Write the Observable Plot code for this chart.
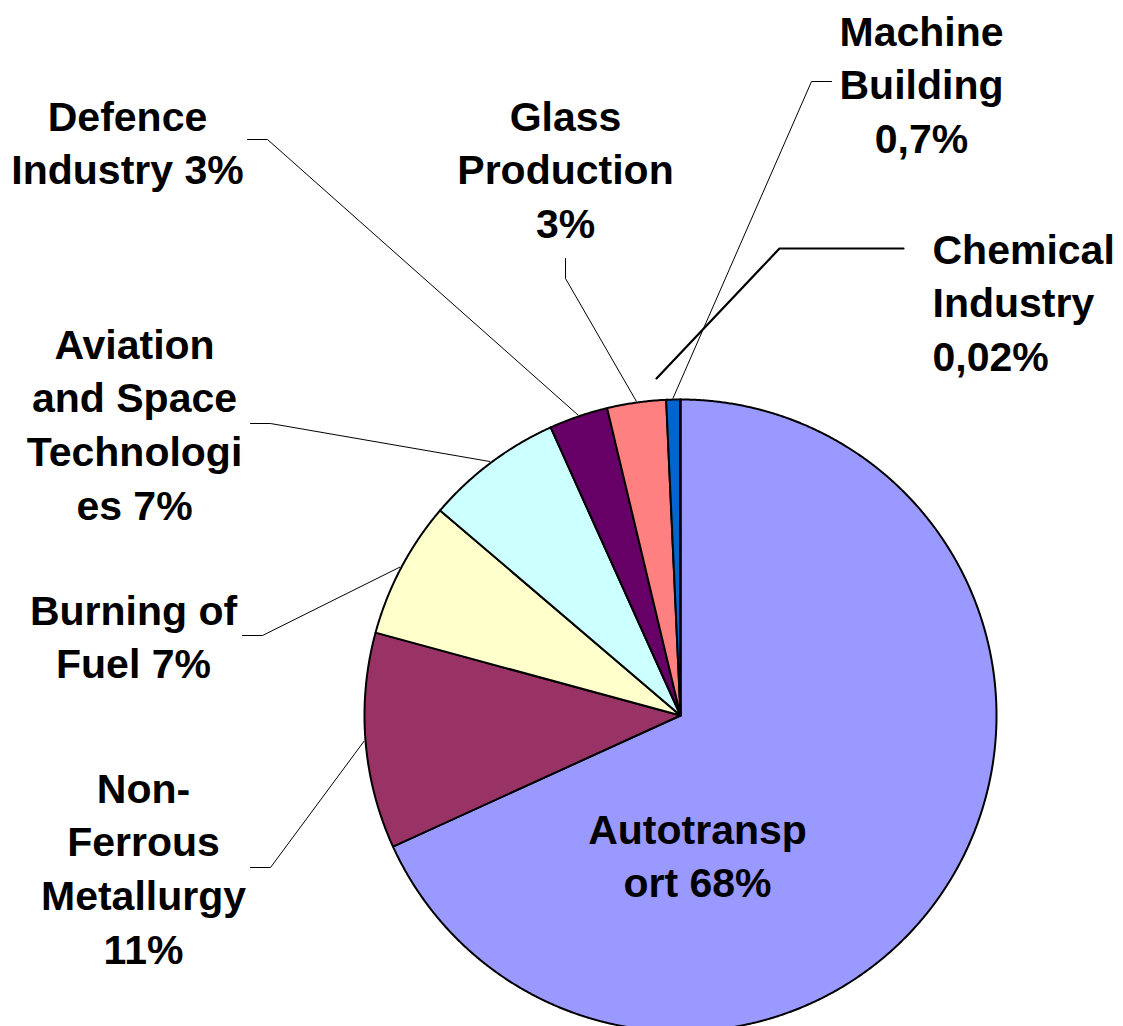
<!DOCTYPE html>
<html>
<head>
<meta charset="utf-8">
<script src="https://cdn.jsdelivr.net/npm/d3@7"></script>
<script src="https://cdn.jsdelivr.net/npm/@observablehq/plot@0.6"></script>
<style>body{margin:0;background:#fff}</style>
</head>
<body>
<div id="chart"></div>
<script>
// ---- data ----
const categories = ["Autotransport", "Non-Ferrous Metallurgy", "Burning of Fuel", "Aviation and Space Technologies", "Defence Industry", "Glass Production", "Machine Building", "Chemical Industry"];
const shares = [68, 11, 7, 7, 3, 3, 0.7, 0.02];
const sliceColors = ["#9999FF", "#993366", "#FFFFCC", "#CCFFFF", "#660066", "#FF8080", "#0066CC", "#CCCCFF"];
const labelLines = [
  ["Autotransp", "ort 68%"],
  ["Non-", "Ferrous", "Metallurgy", "11%"],
  ["Burning of", "Fuel 7%"],
  ["Aviation", "and Space", "Technologi", "es 7%"],
  ["Defence", "Industry 3%"],
  ["Glass", "Production", "3%"],
  ["Machine", "Building", "0,7%"],
  ["Chemical", "Industry", "0,02%"]
];

// ---- layout (pixels of the 1123x1026 frame) ----
const W = 1123, H = 1026, CX = 680, CY = 715, R = 316, LINE = 53.8;
// label anchor: x (center or start), baseline of first line, text anchor
const labelLayout = [
  {x: 697, y: 843, anchor: "middle"},
  {x: 143, y: 802, anchor: "middle"},
  {x: 133, y: 624, anchor: "middle"},
  {x: 134, y: 358, anchor: "middle"},
  {x: 127, y: 130, anchor: "middle"},
  {x: 565, y: 130, anchor: "middle"},
  {x: 921, y: 45, anchor: "middle"},
  {x: 932, y: 263, anchor: "start"}
];
// leader elbows: [elbow, end]; start is taken on the slice edge (except where given)
const leaderLayout = [
  null,
  {pts: [[270, 867], [250, 867]]},
  {pts: [[262, 635], [242, 635]]},
  {pts: [[270, 423], [250, 423]]},
  {pts: [[267, 139], [247, 139]]},
  {pts: [[565, 278], [565, 258]]},
  {pts: [[811, 81], [831, 81]]},
  {start: [656, 378], pts: [[779, 248], [903, 248]], heavy: true}
];

// unit coordinates: pie center (0,0), radius 1, y up
const ux = px => (px - CX) / R;
const uy = py => (CY - py) / R;

const arcs = d3.pie().sort(null).value(d => d.value).startAngle(0).endAngle(2 * Math.PI)(
  categories.map((name, i) => ({name, value: shares[i]}))
);

// slice polygons
const slicePts = [];
arcs.forEach(a => {
  const name = a.data.name;
  slicePts.push({name, x: 0, y: 0});
  const n = Math.max(2, Math.ceil((a.endAngle - a.startAngle) / (Math.PI / 720)));
  for (let k = 0; k <= n; k++) {
    const t = a.startAngle + (a.endAngle - a.startAngle) * k / n;
    slicePts.push({name, x: Math.sin(t), y: Math.cos(t)});
  }
});

// leader lines
const leaderThin = [], leaderHeavy = [];
arcs.forEach((a, i) => {
  const L = leaderLayout[i];
  if (!L) return;
  const name = a.data.name;
  const mid = (a.startAngle + a.endAngle) / 2;
  const start = L.start ? {x: ux(L.start[0]), y: uy(L.start[1])} : {x: Math.sin(mid) * 1.005, y: Math.cos(mid) * 1.005};
  const target = L.heavy ? leaderHeavy : leaderThin;
  target.push({name, ...start});
  L.pts.forEach(p => target.push({name, x: ux(p[0]), y: uy(p[1])}));
});

// label lines
const textMiddle = [], textStart = [];
labelLines.forEach((lines, i) => {
  const L = labelLayout[i];
  lines.forEach((t, j) => {
    const d = {text: t, x: ux(L.x), y: uy(L.y + j * LINE)};
    (L.anchor === "start" ? textStart : textMiddle).push(d);
  });
});

const font = {fontSize: 41, fontWeight: "bold", fontFamily: "'Liberation Sans', Arial, sans-serif", fill: "black", lineAnchor: "bottom"};

const chart = Plot.plot({
  width: W,
  height: H,
  margin: 0,
  x: {domain: [ux(0), ux(W)], axis: null},
  y: {domain: [uy(H), uy(0)], axis: null},
  color: {domain: categories, range: sliceColors},
  marks: [
    Plot.line(slicePts, {x: "x", y: "y", z: "name", fill: "name", stroke: "black", strokeWidth: 2, strokeLinejoin: "round", curve: "linear-closed"}),
    Plot.line(leaderThin, {x: "x", y: "y", z: "name", stroke: "black", strokeWidth: 1}),
    Plot.line(leaderHeavy, {x: "x", y: "y", z: "name", stroke: "black", strokeWidth: 2.2}),
    Plot.text(textMiddle, {x: "x", y: "y", text: "text", textAnchor: "middle", ...font}),
    Plot.text(textStart, {x: "x", y: "y", text: "text", textAnchor: "start", ...font})
  ]
});
document.getElementById("chart").appendChild(chart);
</script>
</body>
</html>
